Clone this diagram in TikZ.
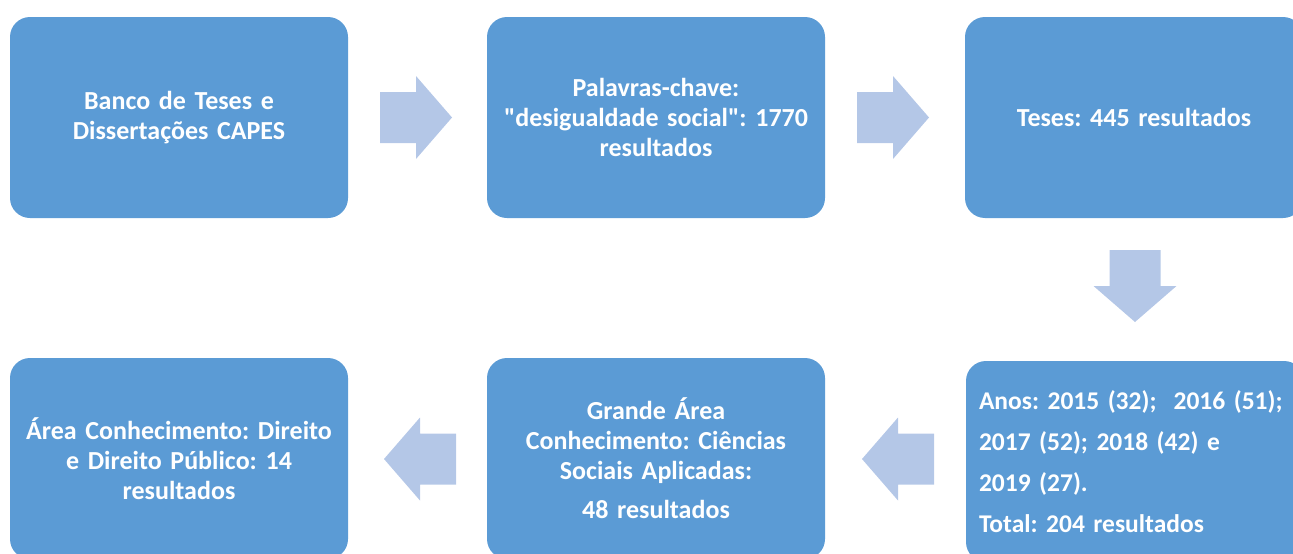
\documentclass[tikz,border=0pt]{standalone}
\usepackage{fontspec}
\setmainfont{Carlito}[Ligatures=TeXOff]
\frenchspacing
\begin{document}
\begin{tikzpicture}[x=1pt,y=-1pt,
  box/.style={fill=boxblue, rounded corners=20pt, minimum width=338pt, minimum height=201pt,
    text=white, font=\bfseries\fontsize{26}{30}\selectfont, align=center, text width=330pt, inner sep=0pt},
  arrowfill/.style={fill=arrowblue},
  blockarrow/.pic={\fill[arrowfill] (0,-25.5) -- (36,-25.5) -- (36,-41.5) -- (72,0) -- (36,41.5) -- (36,25.5) -- (0,25.5) -- cycle;}
]
\definecolor{boxblue}{HTML}{5B9BD5}
\definecolor{arrowblue}{HTML}{B4C7E7}
\useasboundingbox (0,0) rectangle (1293,554);
\clip (0,0) rectangle (1293,554);
\node[box] (b1) at (179,117.5) {Banco de Teses e\\Dissertações CAPES};
\node[box] (b2) at (656,117.5) {Palavras-chave:\\"desigualdade social": 1770\\resultados};
\node[box] (b3) at (1134,117.5) {Teses: 445 resultados};
\node[box, align=left, text width=312pt, font=\bfseries\fontsize{25.5}{41}\selectfont] (b4) at (1135,461.5) {Anos: 2015 (32);~ 2016 (51);\\2017 (52); 2018 (42) e\\2019 (27).\\Total: 204 resultados};
\node[box] (b5) at (656,458.5) {Grande Área\\Conhecimento: Ciências\\Sociais Aplicadas:\\[9pt]48 resultados};
\node[box] (b6) at (179,458.5) {Área Conhecimento: Direito\\e Direito Público: 14\\resultados};
\pic at (380,117.5) {blockarrow};
\pic at (857,117.5) {blockarrow};
\pic[rotate=-90] at (1135,250) {blockarrow};
\pic[rotate=180] at (934,459) {blockarrow};
\pic[rotate=180] at (456,459) {blockarrow};
\end{tikzpicture}
\end{document}
